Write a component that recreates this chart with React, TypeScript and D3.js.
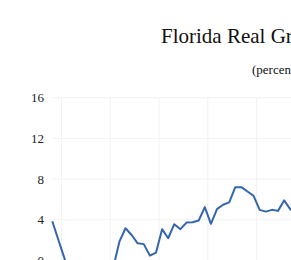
import React, { useEffect, useRef } from 'react';
import * as d3 from 'd3';

// quarterly growth, percent (the dip below zero is outside the visible frame)
const quarters = d3.range(41);
const growth = [
  3.85, 2.0, 0.2, -2.0, -4.5, -6.0, -5.5, -4.0, -3.0, -1.8, -0.7,
  1.84, 3.16, 2.5, 1.68, 1.6, 0.47, 0.76, 3.07, 2.18, 3.56,
  3.07, 3.72, 3.76, 3.92, 5.24, 3.6, 5.04, 5.47, 5.7, 7.2,
  7.2, 6.77, 6.35, 4.97, 4.8, 4.97, 4.87, 5.9, 5.04, 4.6,
];
const yTicks = [0, 4, 8, 12, 16];
const xGrid = [1.5, 9.5, 17.5, 25.5, 33.5, 41.5];

const title = 'Florida Real Gross State Product';
const subtitle = '(percent change, annual rate)';

const W = 291;
const H = 260;

export default function App() {
  const ref = useRef<SVGSVGElement>(null);

  useEffect(() => {
    const svg = d3.select(ref.current);
    svg.selectAll('*').remove();

    const x = d3.scaleLinear().domain([0, 39]).range([52.3, 290.2]);
    const y = d3.scaleLinear().domain([0, 16]).range([260.4, 97.7]);

    const font = '"Liberation Serif", "Times New Roman", serif';

    // grid
    svg.append('g')
      .selectAll('line')
      .data(yTicks.filter((d) => d > 0))
      .enter()
      .append('line')
      .attr('x1', x(0))
      .attr('x2', W + 20)
      .attr('y1', (d) => y(d))
      .attr('y2', (d) => y(d))
      .attr('stroke', '#f2f2f2')
      .attr('stroke-width', 1);

    svg.append('g')
      .selectAll('line')
      .data(xGrid)
      .enter()
      .append('line')
      .attr('x1', (d) => x(d))
      .attr('x2', (d) => x(d))
      .attr('y1', y(16))
      .attr('y2', H + 20)
      .attr('stroke', '#f2f2f2')
      .attr('stroke-width', 1);

    // y labels
    svg.append('g')
      .selectAll('text')
      .data(yTicks)
      .enter()
      .append('text')
      .attr('x', 44)
      .attr('y', (d) => y(d))
      .attr('dy', '0.35em')
      .attr('text-anchor', 'end')
      .style('font-family', font)
      .style('font-size', '13px')
      .attr('fill', '#222')
      .text((d) => d);

    const line = d3.line<number>()
      .x((d, i) => x(quarters[i]))
      .y((d) => y(d));

    svg.append('path')
      .datum(growth)
      .attr('d', line)
      .attr('fill', 'none')
      .attr('stroke', '#3565ad')
      .attr('stroke-width', 2)
      .attr('stroke-linejoin', 'round');

    svg.append('text')
      .attr('x', 161)
      .attr('y', 43)
      .style('font-family', font)
      .style('font-size', '21px')
      .attr('fill', '#111')
      .text(title);

    svg.append('text')
      .attr('x', 252)
      .attr('y', 74)
      .style('font-family', font)
      .style('font-size', '13px')
      .attr('fill', '#111')
      .text(subtitle);
  }, []);

  return (
    <svg
      ref={ref}
      width={W}
      height={H}
      style={{ position: 'absolute', left: 0, top: 0, background: '#fff' }}
    />
  );
}
